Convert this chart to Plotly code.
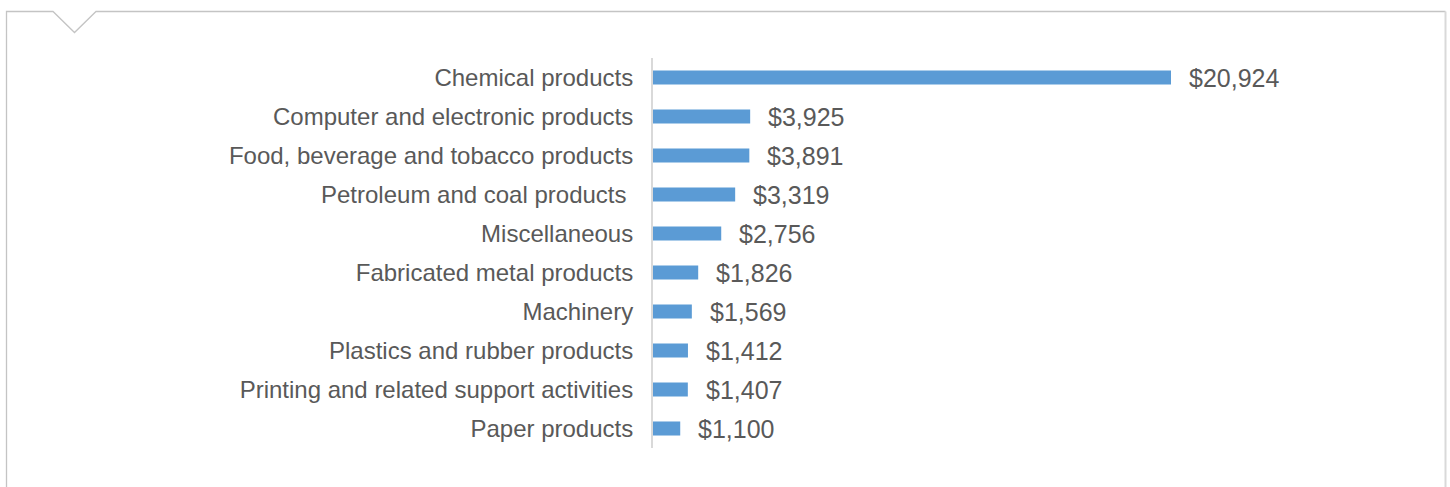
import plotly.graph_objects as go

categories = [
    "Chemical products",
    "Computer and electronic products",
    "Food, beverage and tobacco products",
    "Petroleum and coal products\u00a0",
    "Miscellaneous",
    "Fabricated metal products",
    "Machinery",
    "Plastics and rubber products",
    "Printing and related support activities",
    "Paper products",
]
values = [20924, 3925, 3891, 3319, 2756, 1826, 1569, 1412, 1407, 1100]
value_labels = ["$" + format(v, ",") for v in values]

W, H = 1450, 487
ML, MR, MT, MB = 653, 4, 58, 39
PW, PH = W - ML - MR, H - MT - MB
FONT = "Liberation Sans, Arial, sans-serif"

def px(x):
    return (x - ML) / PW

def py(y):
    return (H - MB - y) / PH

fig = go.Figure()
fig.add_trace(go.Bar(
    x=values, y=categories, orientation="h",
    marker=dict(color="#5b9bd5", line=dict(width=0)),
    hoverinfo="skip",
))

for v, lab, cat in zip(values, value_labels, categories):
    fig.add_annotation(
        x=v, y=cat, xref="x", yref="y", text=lab, showarrow=False,
        xanchor="left", yanchor="middle", xshift=16,
        font=dict(family=FONT, size=25, color="#595959"),
    )

# decorative frame with notch
frame_path = (
    f"M {px(6.5)},{py(490)} L {px(6.5)},{py(11.5)} L {px(53)},{py(11.5)} "
    f"L {px(74.5)},{py(32.5)} L {px(96)},{py(11.5)} L {px(1445.5)},{py(11.5)}"
)
fig.add_shape(type="path", xref="paper", yref="paper", path=frame_path,
              line=dict(color="#c4c4c4", width=1.3), layer="below")
fig.add_shape(type="line", xref="paper", yref="paper",
              x0=px(1445.5), x1=px(1445.5), y0=py(11.5), y1=py(490),
              line=dict(color="#d9d9d9", width=2), layer="below")

fig.update_layout(
    width=W, height=H,
    margin=dict(l=ML, r=MR, t=MT, b=MB, pad=0),
    paper_bgcolor="white", plot_bgcolor="white",
    bargap=0.64,
    showlegend=False,
    font=dict(family=FONT, size=24, color="#595959"),
    xaxis=dict(range=[0, PW / (518 / 20924)], showgrid=False, zeroline=False,
               showticklabels=False, showline=False, fixedrange=True),
    yaxis=dict(autorange="reversed", showgrid=False, zeroline=False,
               showline=True, linecolor="#d9d9d9", linewidth=2,
               ticks="", ticklabelstandoff=13, automargin=False,
               tickfont=dict(family=FONT, size=24, color="#595959")),
)

fig.write_html("out.html", config={"displayModeBar": False},
               post_script="document.body.style.margin='0px';document.body.style.overflow='hidden';")
